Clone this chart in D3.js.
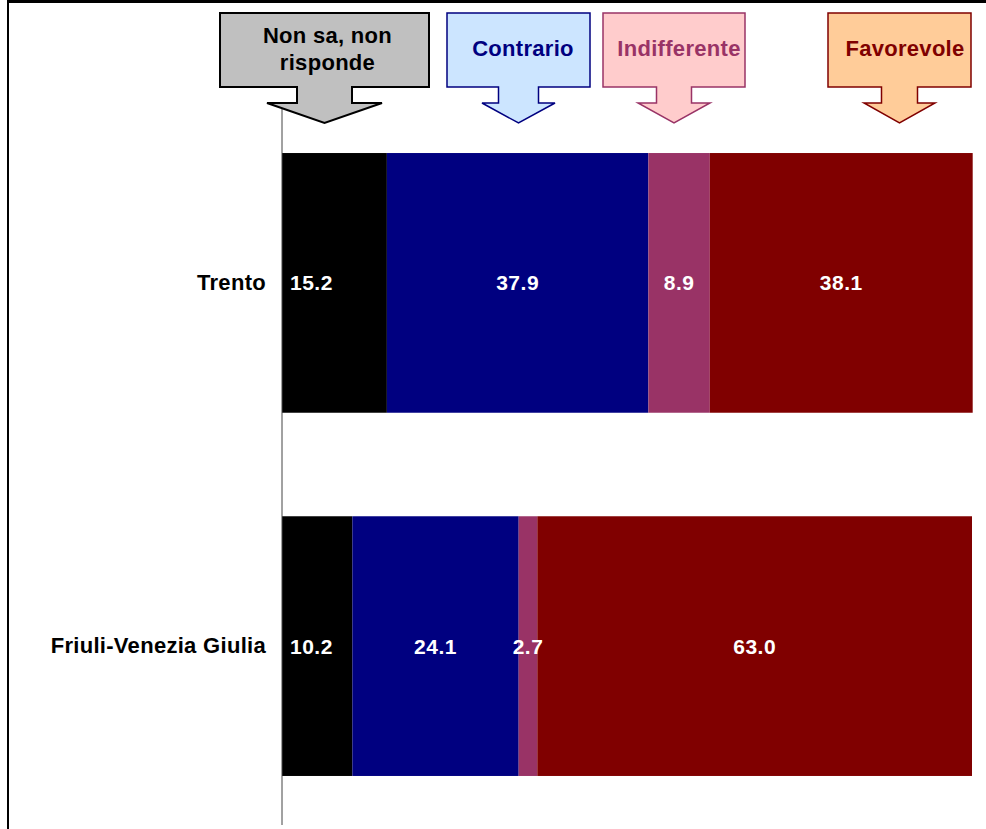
<!DOCTYPE html>
<html>
<head>
<meta charset="utf-8">
<script src="https://cdn.jsdelivr.net/npm/d3@7/dist/d3.min.js"></script>
<style>
  html, body { margin: 0; padding: 0; background: #fff; }
  svg { display: block; }
  text { font-family: "Liberation Sans", Arial, sans-serif; font-weight: bold; }
</style>
</head>
<body>
<svg id="chart" width="986" height="829"></svg>
<script>
// Regions and answer shares (%)
const categories = ["Trento", "Friuli-Venezia Giulia"];
const seriesNames = ["Non sa, non risponde", "Contrario", "Indifferente", "Favorevole"];
const nonSa        = [15.2, 10.2];
const contrario    = [37.9, 24.1];
const indifferente = [8.9, 2.7];
const favorevole   = [38.1, 63.0];
const seriesValues = [nonSa, contrario, indifferente, favorevole];

// Legend callout text lines
const legendLines = [["Non sa, non", "risponde"], ["Contrario"], ["Indifferente"], ["Favorevole"]];

// Colours per answer
const barColors   = ["#000000", "#000080", "#993366", "#800000"];
const calloutFill = ["#C0C0C0", "#CCE5FF", "#FFCCCC", "#FFCC99"];
const calloutLine = ["#000000", "#000080", "#993366", "#800000"];
const calloutText = ["#000000", "#000080", "#993366", "#800000"];

const rows = categories.map((c, i) => {
  const r = { category: c };
  seriesNames.forEach((s, j) => r[s] = seriesValues[j][i]);
  return r;
});

const svg = d3.select("#chart");

// frame lines
svg.append("line").attr("x1", 8).attr("x2", 986).attr("y1", 1.5).attr("y2", 1.5)
  .attr("stroke", "#000").attr("stroke-width", 3);
svg.append("line").attr("x1", 8).attr("x2", 8).attr("y1", 0).attr("y2", 829)
  .attr("stroke", "#000").attr("stroke-width", 2);

const x = d3.scaleLinear().domain([0, 100]).range([282, 972]);
const y = d3.scaleBand().domain(categories)
  .range([100, 829]).paddingInner(0.285).paddingOuter(0.146);

const layers = d3.stack().keys(seriesNames)(rows);

// bars
const g = svg.append("g");
layers.forEach((layer, j) => {
  g.selectAll(null).data(layer).enter().append("rect")
    .attr("x", d => x(d[0]))
    .attr("width", d => x(d[1]) - x(d[0]))
    .attr("y", d => y(d.data.category))
    .attr("height", y.bandwidth())
    .attr("fill", barColors[j]);
});

// value labels: first segment starts near its left edge, the others are centred
layers.forEach((layer, j) => {
  g.selectAll(null).data(layer).enter().append("text")
    .attr("x", d => j === 0 ? x(d[0]) + 8 : (x(d[0]) + x(d[1])) / 2)
    .attr("y", d => y(d.data.category) + y.bandwidth() / 2)
    .attr("dy", "0.36em")
    .attr("text-anchor", j === 0 ? "start" : "middle")
    .attr("fill", "#fff")
    .attr("font-size", 21)
    .attr("letter-spacing", 0.5)
    .text(d => (d[1] - d[0]).toFixed(1));
});

// category axis
const axis = d3.axisLeft(y).tickSize(0).tickPadding(16);
const ax = svg.append("g").attr("transform", `translate(${x(0)},0)`).call(axis);
ax.select(".domain").remove();
ax.selectAll("text")
  .attr("font-size", 22)
  .attr("letter-spacing", 0.3)
  .attr("dy", "0.33em")
  .attr("fill", "#000")
  .style("font-family", "'Liberation Sans', Arial, sans-serif")
  .style("font-weight", "bold");
svg.append("line")
  .attr("x1", x(0)).attr("x2", x(0))
  .attr("y1", 107).attr("y2", 825)
  .attr("stroke", "#444").attr("stroke-width", 1);

// down-arrow callouts used as legend
const callouts = [
  { x0: 220, x1: 429, sw: 27.5, ww: 57.5, tx: 3 },
  { x0: 447, x1: 590, sw: 20, ww: 36.5, tx: 4.5 },
  { x0: 603, x1: 745, sw: 17.5, ww: 36, tx: 5 },
  { x0: 828, x1: 971, sw: 18, ww: 35.5, tx: 5.5 }
];
const boxTop = 13, boxBot = 87, stemEnd = 103, tipY = 123;
callouts.forEach((c, j) => {
  const cx = (c.x0 + c.x1) / 2;
  const p = d3.path();
  p.moveTo(c.x0, boxTop);
  p.lineTo(c.x1, boxTop);
  p.lineTo(c.x1, boxBot);
  p.lineTo(cx + c.sw, boxBot);
  p.lineTo(cx + c.sw, stemEnd);
  p.lineTo(cx + c.ww, stemEnd);
  p.lineTo(cx, tipY);
  p.lineTo(cx - c.ww, stemEnd);
  p.lineTo(cx - c.sw, stemEnd);
  p.lineTo(cx - c.sw, boxBot);
  p.lineTo(c.x0, boxBot);
  p.closePath();
  svg.append("path").attr("d", p.toString())
    .attr("fill", calloutFill[j])
    .attr("stroke", calloutLine[j])
    .attr("stroke-width", j === 0 ? 2 : 1.5)
    .attr("stroke-linejoin", "miter");
  const lines = legendLines[j];
  const t = svg.append("text")
    .attr("text-anchor", "middle")
    .attr("fill", calloutText[j])
    .attr("font-size", 22)
    .attr("letter-spacing", 0.3);
  if (lines.length === 2) {
    t.append("tspan").attr("x", cx + c.tx).attr("y", 43).text(lines[0]);
    t.append("tspan").attr("x", cx + c.tx).attr("y", 70).text(lines[1]);
  } else {
    t.append("tspan").attr("x", cx + c.tx).attr("y", 56).text(lines[0]);
  }
});
</script>
</body>
</html>
